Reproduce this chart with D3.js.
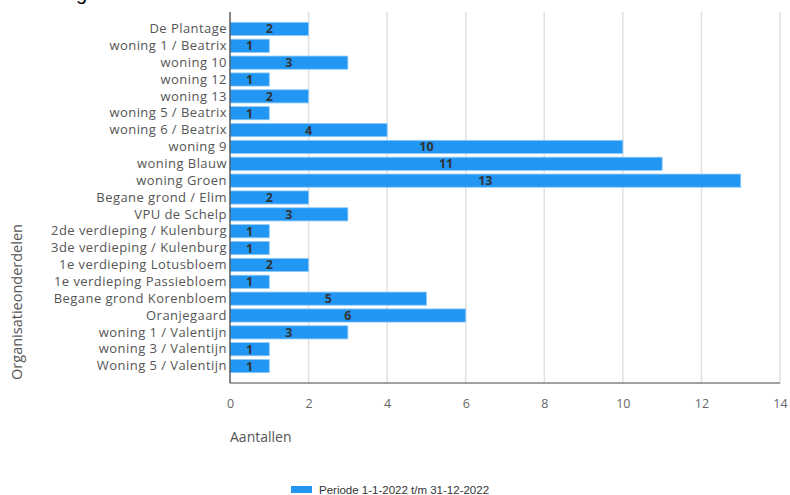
<!DOCTYPE html>
<html>
<head>
<meta charset="utf-8">
<script src="https://cdn.jsdelivr.net/npm/d3@7"></script>
<style>
  html, body { margin: 0; padding: 0; background: #fff; }
  svg { display: block; }
</style>
</head>
<body>
<svg id="chart" width="790" height="495"></svg>
<script>
// Categories (top to bottom) and their counts for the period
const categories = [
  "De Plantage", "woning 1 / Beatrix", "woning 10", "woning 12", "woning 13",
  "woning 5 / Beatrix", "woning 6 / Beatrix", "woning 9", "woning Blauw",
  "woning Groen", "Begane grond /  Elim", "VPU de Schelp",
  "2de verdieping / Kulenburg", "3de verdieping / Kulenburg",
  "1e verdieping Lotusbloem", "1e verdieping Passiebloem",
  "Begane grond Korenbloem", "Oranjegaard", "woning 1 / Valentijn",
  "woning 3 / Valentijn", "Woning 5 / Valentijn"
];
const values = [2, 1, 3, 1, 2, 1, 4, 10, 11, 13, 2, 3, 1, 1, 2, 1, 5, 6, 3, 1, 1];
const xTicks = [0, 2, 4, 6, 8, 10, 12, 14];
const seriesName = "Periode 1-1-2022 t/m 31-12-2022";
const xTitle = "Aantallen";
const yTitle = "Organisatieonderdelen";
const chartTitle = "Meldingen";

const svg = d3.select("#chart");
const plot = { left: 230, right: 780, top: 12, bottom: 383 };
const barColor = "#2196f3";
const labelFont = "'Open Sans', sans-serif";

const x = d3.scaleLinear().domain([0, 14]).range([plot.left, plot.right]);
const y = d3.scaleBand().domain(categories)
  .range([plot.top + 8.5, plot.bottom - 8.5]).paddingInner(0.22).paddingOuter(0.11);

// chart title, sitting at the very top edge
svg.append("text").attr("x", 17).attr("y", 0)
  .attr("font-family", "'Liberation Sans', Arial, sans-serif").attr("font-size", 20)
  .attr("fill", "#000").text(chartTitle);

// vertical gridlines
svg.append("g").selectAll("line").data(xTicks).join("line")
  .attr("x1", d => x(d)).attr("x2", d => x(d))
  .attr("y1", plot.top).attr("y2", plot.bottom)
  .attr("stroke", "#e0e0e0").attr("stroke-width", 1.5);

// bars
svg.append("g").selectAll("rect").data(categories).join("rect")
  .attr("x", x(0))
  .attr("y", d => y(d))
  .attr("width", (d, i) => x(values[i]) - x(0))
  .attr("height", y.bandwidth())
  .attr("fill", barColor)
  .attr("stroke", "#8fc9f9").attr("stroke-width", 0.8);

// value labels centered in bars
svg.append("g").selectAll("text").data(categories).join("text")
  .attr("x", (d, i) => x(values[i] / 2))
  .attr("y", d => y(d) + y.bandwidth() / 2)
  .attr("dy", "0.36em")
  .attr("text-anchor", "middle")
  .attr("font-family", labelFont).attr("font-size", 12.5).attr("font-weight", "bold")
  .attr("fill", "#333")
  .text((d, i) => values[i]);

// y axis: category labels
const yAxis = d3.axisLeft(y).tickSize(0).tickPadding(3);
const gy = svg.append("g").attr("transform", `translate(${plot.left},0)`).call(yAxis);
gy.select(".domain").remove();
gy.selectAll("text").attr("font-family", labelFont).attr("font-size", 13)
  .attr("letter-spacing", 0.45).attr("fill", "#555");

// x axis: tick labels
const xAxis = d3.axisBottom(x).tickValues(xTicks).tickSize(0).tickPadding(16);
const gx = svg.append("g").attr("transform", `translate(0,${plot.bottom})`).call(xAxis);
gx.select(".domain").remove();
gx.selectAll("text").attr("font-family", labelFont).attr("font-size", 12.5).attr("fill", "#666");

// axis lines
svg.append("line").attr("x1", plot.left).attr("x2", plot.left)
  .attr("y1", plot.top).attr("y2", plot.bottom).attr("stroke", "#444").attr("stroke-width", 1.2);
svg.append("line").attr("x1", plot.left).attr("x2", plot.right)
  .attr("y1", plot.bottom).attr("y2", plot.bottom).attr("stroke", "#444").attr("stroke-width", 1.2);

// axis titles
svg.append("text").attr("x", plot.left).attr("y", 442)
  .attr("font-family", labelFont).attr("font-size", 14).attr("fill", "#555").text(xTitle);
svg.append("text")
  .attr("transform", `translate(22,${302}) rotate(-90)`)
  .attr("text-anchor", "middle")
  .attr("font-family", labelFont).attr("font-size", 14.5).attr("fill", "#555").text(yTitle);

// legend
const lg = svg.append("g").attr("transform", "translate(291,486)");
lg.append("rect").attr("width", 21).attr("height", 7).attr("fill", barColor);
lg.append("text").attr("x", 28).attr("y", 4).attr("dy", "0.35em")
  .attr("font-family", "'Liberation Sans', Arial, sans-serif").attr("font-size", 11.5)
  .attr("fill", "#333").text(seriesName);
</script>
</body>
</html>
